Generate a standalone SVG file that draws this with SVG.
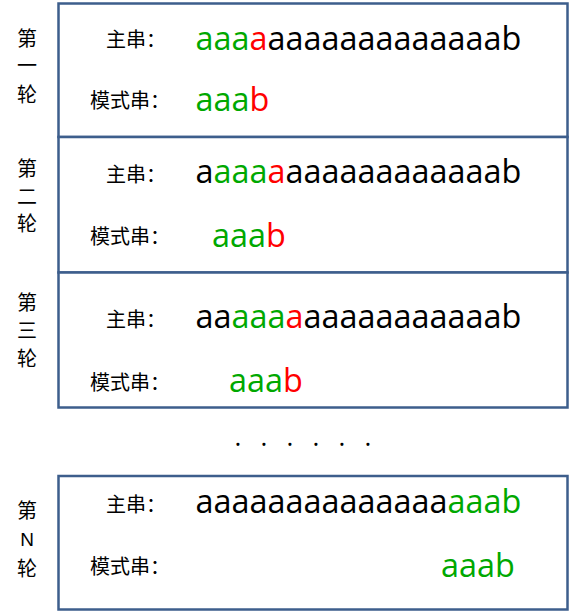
<svg xmlns="http://www.w3.org/2000/svg" width="584" height="613" viewBox="0 0 584 613">
<style>
.box{fill:#ffffff;stroke:#3d5e8c;stroke-width:2.5}
.lbl{font-family:"Noto Sans CJK SC","Noto Sans",sans-serif;font-size:20px;fill:#000}
.side{font-family:"Noto Sans CJK SC","Noto Sans",sans-serif;font-size:20px;fill:#000;text-anchor:middle}
.str{font-family:"Open Sans","DejaVu Sans",sans-serif;font-size:32.4px;fill:#000}
.g{fill:#00a800}
.r{fill:#ff0000}
.dots{font-family:"Open Sans",sans-serif;font-size:26px;fill:#000}
</style>
<rect width="584" height="613" fill="#ffffff"/>
<g id="round1">
<rect class="box" x="58.5" y="3.5" width="509" height="133.5"/>
<text class="side" x="27" y="45.5">第</text>
<text class="side" x="27" y="73">一</text>
<text class="side" x="27" y="102">轮</text>
<text class="lbl" x="106" y="47">主串：</text>
<text class="lbl" x="90" y="108">模式串：</text>
<text class="str" x="195.5" y="50"><tspan class="g">aaa</tspan><tspan class="r">a</tspan>aaaaaaaaaaaaab</text>
<text class="str" x="195.5" y="111"><tspan class="g">aaa</tspan><tspan class="r">b</tspan></text>
</g>
<g id="round2">
<rect class="box" x="58.5" y="137" width="509" height="135.5"/>
<text class="side" x="27" y="175.5">第</text>
<text class="side" x="27" y="203.5">二</text>
<text class="side" x="27" y="231">轮</text>
<text class="lbl" x="106" y="182">主串：</text>
<text class="lbl" x="90" y="244">模式串：</text>
<text class="str" x="195.5" y="183">a<tspan class="g">aaa</tspan><tspan class="r">a</tspan>aaaaaaaaaaaab</text>
<text class="str" x="212" y="247"><tspan class="g">aaa</tspan><tspan class="r">b</tspan></text>
</g>
<g id="round3">
<rect class="box" x="58.5" y="272.5" width="509" height="135"/>
<text class="side" x="27" y="310">第</text>
<text class="side" x="27" y="338">三</text>
<text class="side" x="27" y="366">轮</text>
<text class="lbl" x="106" y="327">主串：</text>
<text class="lbl" x="90" y="390">模式串：</text>
<text class="str" x="195.5" y="328">aa<tspan class="g">aaa</tspan><tspan class="r">a</tspan>aaaaaaaaaaab</text>
<text class="str" x="229" y="392"><tspan class="g">aaa</tspan><tspan class="r">b</tspan></text>
</g>
<g id="ellipsis">
<text class="dots" x="234.5 260.5 286.5 312.5 338.5 364.5" y="446">......</text>
</g>
<g id="roundN">
<rect class="box" x="58.5" y="476" width="509" height="133.5"/>
<text class="side" x="27" y="517.5">第</text>
<text x="27" y="545.5" font-family="Liberation Sans, Arial, sans-serif" font-size="19" text-anchor="middle" fill="#000">N</text>
<text class="side" x="27" y="576">轮</text>
<text class="lbl" x="106" y="512">主串：</text>
<text class="lbl" x="90" y="574">模式串：</text>
<text class="str" x="195.5" y="513">aaaaaaaaaaaaaa<tspan class="g">aaab</tspan></text>
<text class="str" x="441" y="577"><tspan class="g">aaab</tspan></text>
</g>
<g id="connectors"></g>
</svg>
